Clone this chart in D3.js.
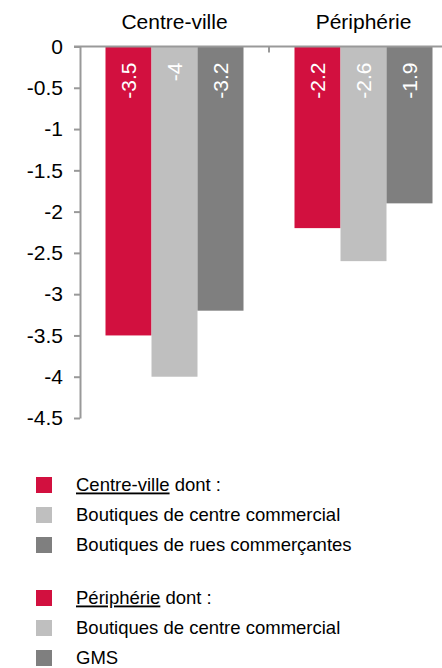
<!DOCTYPE html>
<html>
<head>
<meta charset="utf-8">
<script src="https://cdn.jsdelivr.net/npm/d3@7"></script>
<style>
  body { margin: 0; background: #fff; }
  svg { display: block; font-family: "Liberation Sans", Arial, sans-serif; }
</style>
</head>
<body>
<svg id="chart" width="442" height="668"></svg>
<script>
// data
var categories = ["Centre-ville", "Périphérie"];
var seriesNames = ["Total", "Boutiques de centre commercial", "Boutiques de rues / GMS"];
var totalValues = [-3.5, -2.2];
var centreCommValues = [-4, -2.6];
var thirdValues = [-3.2, -1.9];
var yTicks = [0, -0.5, -1, -1.5, -2, -2.5, -3, -3.5, -4, -4.5];
var colors = ["#d2103f", "#bfbfbf", "#7f7f7f"];

var legendGroups = [
  {title: "Centre-ville", items: ["Boutiques de centre commercial", "Boutiques de rues commerçantes"]},
  {title: "Périphérie", items: ["Boutiques de centre commercial", "GMS"]}
];

var svg = d3.select("#chart");

var x = d3.scaleBand().domain(categories).range([80, 458]);
var xSub = d3.scaleBand().domain([0, 1, 2]).range([25.5, 163.5]);
var y = d3.scaleLinear().domain([-4.5, 0]).range([418, 46.5]);

var rows = categories.map(function(c, i) {
  return {cat: c, values: [totalValues[i], centreCommValues[i], thirdValues[i]]};
});

// bars
var grp = svg.selectAll(".grp")
  .data(rows)
  .enter().append("g")
    .attr("class", "grp")
    .attr("transform", function(d) { return "translate(" + x(d.cat) + ",0)"; });

grp.selectAll("rect")
  .data(function(d) { return d.values; })
  .enter().append("rect")
    .attr("x", function(d, i) { return xSub(i); })
    .attr("y", y(0))
    .attr("width", xSub.bandwidth())
    .attr("height", function(d) { return y(d) - y(0); })
    .attr("fill", function(d, i) { return colors[i]; });

grp.selectAll(".lbl")
  .data(function(d) { return d.values; })
  .enter().append("text")
    .attr("class", "lbl")
    .attr("transform", function(d, i) {
      return "translate(" + (xSub(i) + xSub.bandwidth() / 2) + "," + (y(0) + 16) + ") rotate(-90)";
    })
    .attr("text-anchor", "end")
    .attr("dy", "0.35em")
    .attr("fill", "#fff")
    .style("font-size", "21px")
    .text(function(d) { return String(d); });

// y axis
var yAxis = svg.append("g")
  .attr("transform", "translate(80,0)")
  .call(d3.axisLeft(y).tickValues(yTicks).tickSize(6).tickSizeOuter(0)
    .tickFormat(function(d) { return String(d); }));
yAxis.selectAll("line").attr("stroke", "#999").attr("stroke-width", 2);
yAxis.select(".domain").attr("stroke", "#999").attr("stroke-width", 2);
yAxis.selectAll("text").attr("fill", "#000").style("font-size", "21px").attr("x", -17);

// top category axis
var xAxis = svg.append("g")
  .attr("transform", "translate(0," + y(0) + ")")
  .call(d3.axisTop(x).tickSize(0).tickSizeOuter(0));
xAxis.select(".domain").remove();
xAxis.selectAll("text").attr("fill", "#000").style("font-size", "21px").attr("y", -18);

svg.append("line")
  .attr("x1", 74).attr("x2", 442)
  .attr("y1", y(0)).attr("y2", y(0))
  .attr("stroke", "#999").attr("stroke-width", 2);

svg.selectAll(".sep")
  .data(categories.slice(1))
  .enter().append("line")
    .attr("class", "sep")
    .attr("x1", function(d) { return x(d); }).attr("x2", function(d) { return x(d); })
    .attr("y1", y(0)).attr("y2", y(0) + 6)
    .attr("stroke", "#999").attr("stroke-width", 2);

// legend
var legendRows = [];
var ly = 485;
legendGroups.forEach(function(g, gi) {
  legendRows.push({y: ly, color: colors[0], title: g.title, text: " dont :"});
  ly += 30;
  g.items.forEach(function(it, ii) {
    legendRows.push({y: ly, color: colors[ii + 1], title: null, text: it});
    ly += 30;
  });
  ly += 23;
});

var leg = svg.selectAll(".leg")
  .data(legendRows)
  .enter().append("g")
    .attr("class", "leg")
    .attr("transform", function(d) { return "translate(0," + d.y + ")"; });

leg.append("rect")
  .attr("x", 36).attr("y", -8)
  .attr("width", 16).attr("height", 16)
  .attr("fill", function(d) { return d.color; });

var lt = leg.append("text")
  .attr("x", 76)
  .attr("dy", "0.35em")
  .style("font-size", "18.5px")
  .attr("fill", "#000");

lt.filter(function(d) { return d.title; })
  .append("tspan")
    .style("text-decoration", "underline")
    .text(function(d) { return d.title; });
lt.append("tspan")
  .text(function(d) { return d.text; });
</script>
</body>
</html>
